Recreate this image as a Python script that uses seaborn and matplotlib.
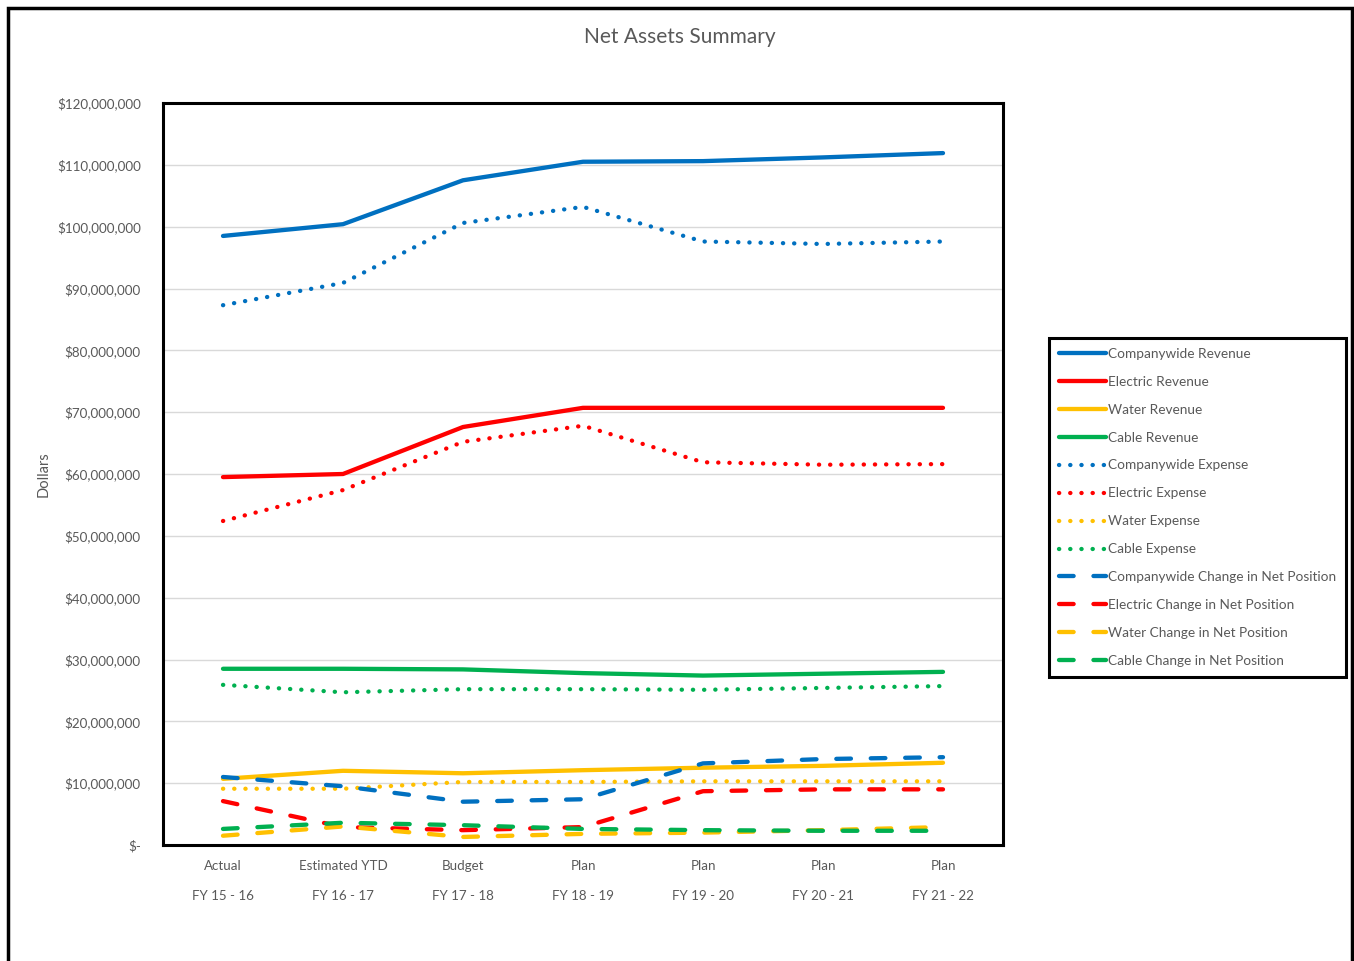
import numpy as np
import pandas as pd
import matplotlib
matplotlib.use("Agg")
import matplotlib.pyplot as plt
import seaborn as sns
from matplotlib.lines import Line2D
from matplotlib.patches import Rectangle
from matplotlib.ticker import FuncFormatter

sns.set_theme(style="white")
plt.rcParams['font.family'] = ['Lato', 'DejaVu Sans']

categories = ["Actual\nFY 15 - 16", "Estimated YTD\nFY 16 - 17", "Budget\nFY 17 - 18",
              "Plan\nFY 18 - 19", "Plan\nFY 19 - 20", "Plan\nFY 20 - 21", "Plan\nFY 21 - 22"]

companywide_revenue = [98.5, 100.4, 107.5, 110.5, 110.6, 111.2, 111.9]
electric_revenue = [59.5, 60.0, 67.6, 70.7, 70.7, 70.7, 70.7]
water_revenue = [10.7, 12.0, 11.6, 12.1, 12.5, 12.8, 13.3]
cable_revenue = [28.5, 28.5, 28.4, 27.8, 27.4, 27.7, 28.0]
companywide_expense = [87.3, 90.9, 100.6, 103.2, 97.6, 97.2, 97.6]
electric_expense = [52.4, 57.4, 65.2, 67.8, 61.9, 61.5, 61.6]
water_expense = [9.1, 9.1, 10.2, 10.2, 10.3, 10.3, 10.3]
cable_expense = [25.9, 24.7, 25.2, 25.2, 25.1, 25.4, 25.7]
companywide_change = [11.0, 9.5, 7.0, 7.4, 13.2, 13.9, 14.2]
electric_change = [7.1, 2.9, 2.4, 2.9, 8.7, 9.0, 9.0]
water_change = [1.5, 3.0, 1.3, 1.8, 2.0, 2.4, 2.9]
cable_change = [2.6, 3.6, 3.2, 2.6, 2.4, 2.3, 2.3]

series_names = ["Companywide Revenue", "Electric Revenue", "Water Revenue", "Cable Revenue",
                "Companywide Expense", "Electric Expense", "Water Expense", "Cable Expense",
                "Companywide Change in Net Position", "Electric Change in Net Position",
                "Water Change in Net Position", "Cable Change in Net Position"]
series_values = [companywide_revenue, electric_revenue, water_revenue, cable_revenue,
                 companywide_expense, electric_expense, water_expense, cable_expense,
                 companywide_change, electric_change, water_change, cable_change]

BLUE, RED, YEL, GRN = "#0070C0", "#FF0000", "#FFC000", "#00B050"
colors = [BLUE, RED, YEL, GRN] * 3
solid = (0, ())
dotted = (0, (0.05, 2.55))
dashed = (0, (3.4, 4.6))
styles = [solid] * 4 + [dotted] * 4 + [dashed] * 4

W, H = 1354, 961
fig = plt.figure(figsize=(W / 100, H / 100), dpi=100)
ax = fig.add_axes([163 / W, 1 - 845 / H, 840 / W, 742 / H])

x = np.arange(len(categories))
LW = 3.1
handles = []
for name, vals, c, ls in zip(series_names, series_values, colors, styles):
    df = pd.DataFrame({"x": x, "y": np.array(vals) * 1e6})
    sns.lineplot(data=df, x="x", y="y", ax=ax, color=c, linewidth=LW, legend=False)
    ln = ax.lines[-1]
    if ls is not solid:
        ln.set_linestyle(ls)
    ln.set_dash_capstyle("round")
    ln.set_solid_capstyle("round")
    ln.set_dash_joinstyle("round")
    ln.set_solid_joinstyle("round")
    h = Line2D([0], [0], color=c, linewidth=LW, linestyle=ls if ls is not solid else "-",
               dash_capstyle="round", solid_capstyle="round")
    handles.append(h)

ax.set_xlim(-0.5, len(categories) - 0.5)
ax.set_ylim(0, 120e6)
ax.set_yticks(np.arange(0, 120e6 + 1, 10e6))
ax.yaxis.set_major_formatter(FuncFormatter(lambda v, p: "$-" if v == 0 else "${:,.0f}".format(v)))
ax.set_xticks(x)
ax.set_xticklabels(categories, linespacing=2.75)
ax.grid(axis="y", color="#D9D9D9", linewidth=1.0)
ax.set_axisbelow(True)
for s in ax.spines.values():
    s.set_color("black")
    s.set_linewidth(2.2)
ax.tick_params(axis="both", length=0, labelsize=9.6, labelcolor="#595959")
ax.tick_params(axis="y", pad=16)
ax.tick_params(axis="x", pad=11)
ax.set_xlabel("")
ax.set_ylabel("")

fig.text(44 / W, 1 - 474 / H, "Dollars", rotation=90, ha="center", va="center",
         fontsize=10.5, color="#595959")
fig.text(680 / W, 1 - 37 / H, "Net Assets Summary", ha="center", va="center",
         fontsize=15, color="#595959")

leg = fig.legend(handles, series_names, loc="upper left",
                 bbox_to_anchor=(1049 / W, 1 - 338 / H), bbox_transform=fig.transFigure,
                 fontsize=9.8, handlelength=3.5, handletextpad=0.15, labelspacing=1.17,
                 borderpad=0.72, borderaxespad=0, fancybox=False, frameon=True,
                 framealpha=1, edgecolor="black", labelcolor="#595959")
leg.get_frame().set_linewidth(2.2)

border = Rectangle((8 / W, -0.05), (1352 - 8) / W, 1 - 8 / H + 0.05, transform=fig.transFigure,
                   fill=False, edgecolor="black", linewidth=2.5)
fig.patches.append(border)

fig.savefig("out.png", dpi=100, facecolor="white")
